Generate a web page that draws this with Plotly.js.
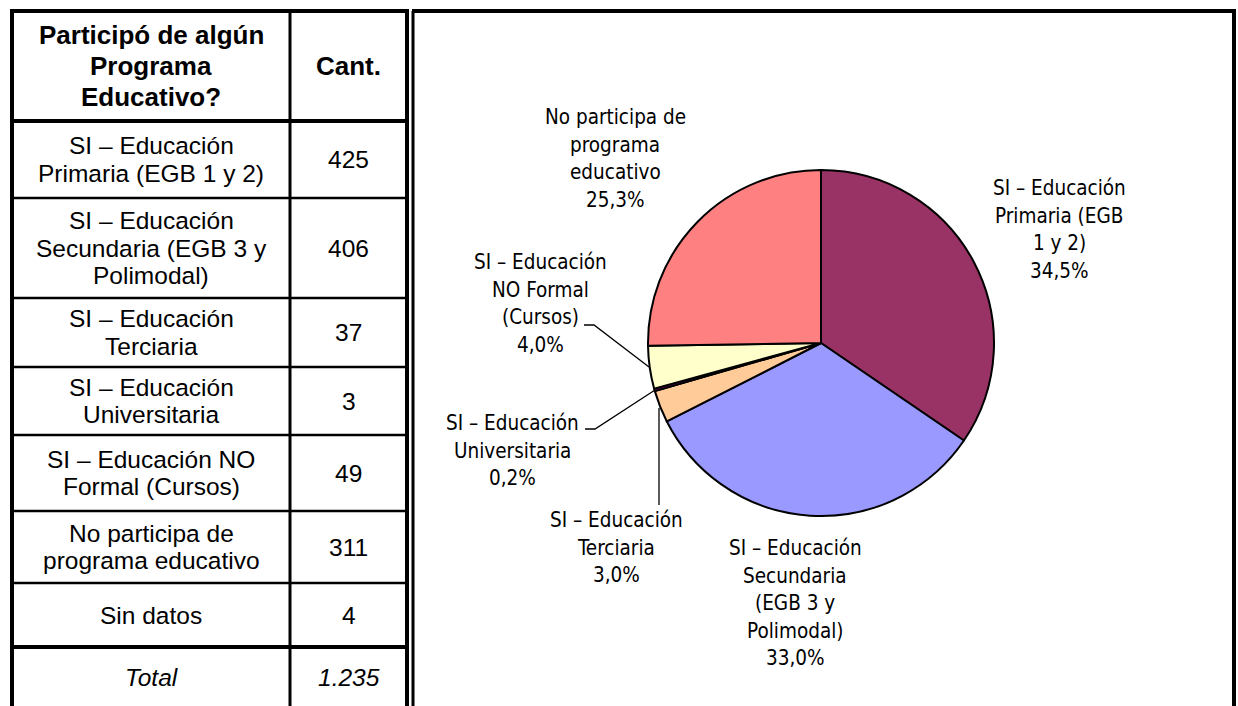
<!DOCTYPE html>
<html><head><meta charset="utf-8">
<script src="https://cdn.plot.ly/plotly-3.0.1.min.js"></script>
<style>html,body{margin:0;padding:0;background:#fff;overflow:hidden}</style>
</head><body><div id="chart" style="width:1238px;height:706px"></div>
<script>
// ---- data ----
const headerCategory = "Participó de algún<br>Programa<br>Educativo?";
const headerCount = "Cant.";
const tableCategories = [
  "SI – Educación<br>Primaria (EGB 1 y 2)",
  "SI – Educación<br>Secundaria (EGB 3 y<br>Polimodal)",
  "SI – Educación<br>Terciaria",
  "SI – Educación<br>Universitaria",
  "SI – Educación NO<br>Formal (Cursos)",
  "No participa de<br>programa educativo",
  "Sin datos"
];
const tableCounts = [425, 406, 37, 3, 49, 311, 4];
const totalLabel = "Total";
const totalValue = "1.235";

const pieLabels = [
  "SI – Educación<br>Primaria (EGB<br>1 y 2)",
  "SI – Educación<br>Secundaria<br>(EGB 3 y<br>Polimodal)",
  "SI – Educación<br>Terciaria",
  "SI – Educación<br>Universitaria",
  "SI – Educación<br>NO Formal<br>(Cursos)",
  "No participa de<br>programa<br>educativo"
];
const pieValues = [425, 406, 37, 3, 49, 311];

// ---- styles / positions ----
const pieColors = ["#993366", "#9999FF", "#FFCC99", "#660066", "#FFFFCC", "#FF8080"];
const W = 1238, H = 706;
const tableFont = "Liberation Sans, Arial, sans-serif";
const pieFont = "Liberation Sans Narrow, Arial Narrow, DejaVu Sans Condensed, sans-serif";
const colX = [12, 290, 407];
const rowEdges = [11, 121, 198, 298, 367, 435, 511, 583, 647, 720];
const tableLineGap = 27.5;
const headerLineGap = 31;
const pieCenter = [821, 343], pieR = 173;
const labelPos = [[1059, 188], [795, 548], [616, 520], [512, 423], [540, 262], [615, 117]];
const pieLineGap = 27.5;

const annotations = [];
const shapes = [];
function addLines(text, cx, cy, gap, font, startTop) {
  const lines = text.split("<br>");
  const y0 = startTop ? cy : cy - gap * (lines.length - 1) / 2;
  lines.forEach((ln, i) => {
    annotations.push({x: cx, y: y0 + i * gap, xref: "x", yref: "y", text: ln,
      showarrow: false, xanchor: "center", yanchor: "middle", font: font});
  });
}
const fReg = {family: tableFont, size: 24.5, color: "#000"};
const fBold = {family: tableFont, size: 26, color: "#000", weight: "bold"};
const fIt = {family: tableFont, size: 24.5, color: "#000", style: "italic"};
const c1 = (colX[0] + colX[1]) / 2, c2 = (colX[1] + colX[2]) / 2;

// header
addLines("<b>" + headerCategory.split("<br>").join("</b><br><b>") + "</b>", c1, (rowEdges[0] + rowEdges[1]) / 2, headerLineGap, fBold);
addLines("<b>" + headerCount + "</b>", c2, (rowEdges[0] + rowEdges[1]) / 2, headerLineGap, fBold);
tableCategories.forEach((cat, i) => {
  const cy = (rowEdges[i + 1] + rowEdges[i + 2]) / 2;
  addLines(cat, c1, cy, tableLineGap, fReg);
  addLines(String(tableCounts[i]), c2, cy, tableLineGap, fReg);
});
const ty = (rowEdges[8] + 706) / 2 + 1;
addLines("<i>" + totalLabel + "</i>", c1, ty, tableLineGap, fIt);
addLines("<i>" + totalValue + "</i>", c2, ty, tableLineGap, fIt);

// table borders
function line(x0, y0, x1, y1, w) {
  shapes.push({type: "line", xref: "x", yref: "y", x0, y0, x1, y1, line: {color: "#000", width: w}});
}
line(colX[0] - 2, rowEdges[0], colX[2] + 2, rowEdges[0], 4);
line(colX[0], rowEdges[0], colX[0], 720, 4);
line(colX[1], rowEdges[0], colX[1], 720, 3);
line(colX[2], rowEdges[0], colX[2], 720, 4);
for (let i = 1; i <= 8; i++) line(colX[0], rowEdges[i], colX[2], rowEdges[i], (i === 1 || i === 8) ? 4 : 2.5);
// chart frame
line(412, 11, 1236, 11, 4);
line(413, 11, 413, 720, 3);
line(1234, 9, 1234, 720, 4);

// pie labels
const total = pieValues.reduce((a, b) => a + b, 0);
const fPie = {family: pieFont, size: 20.5, color: "#000"};
pieLabels.forEach((lab, i) => {
  const pct = (pieValues[i] / total * 100).toFixed(1).replace(".", ",") + "%";
  addLines(lab + "<br>" + pct, labelPos[i][0], labelPos[i][1], pieLineGap, fPie, true);
});
// leader lines
function path(d) { shapes.push({type: "path", xref: "x", yref: "y", path: d, line: {color: "#000", width: 1.3}}); }
path("M 584 325 L 594 325 L 649 367");
path("M 585 429 L 595 429 L 655 390");
path("M 659 408 L 659 505");

const data = [{
  type: "pie", values: pieValues, labels: pieLabels.map(s => s.replace(/<br>/g, " ")),
  marker: {colors: pieColors, line: {color: "#000", width: 2}},
  sort: false, direction: "clockwise", rotation: 0, textinfo: "none",
  hoverinfo: "label+value+percent", showlegend: false,
  domain: {x: [(pieCenter[0] - pieR) / W, (pieCenter[0] + pieR) / W],
           y: [(H - pieCenter[1] - pieR) / H, (H - pieCenter[1] + pieR) / H]}
}];
const layout = {
  width: W, height: H, margin: {l: 0, r: 0, t: 0, b: 0},
  paper_bgcolor: "#fff", plot_bgcolor: "rgba(0,0,0,0)",
  xaxis: {range: [0, W], visible: false, fixedrange: true},
  yaxis: {range: [H, 0], visible: false, fixedrange: true},
  showlegend: false, annotations, shapes
};
Plotly.newPlot("chart", data, layout, {displayModeBar: false, staticPlot: true});
</script></body></html>
